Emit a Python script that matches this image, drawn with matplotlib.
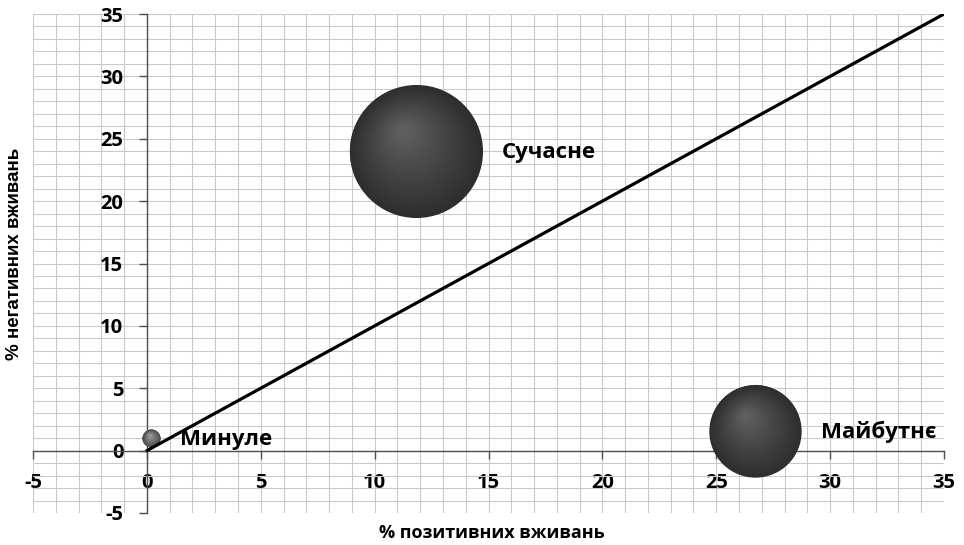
import matplotlib
matplotlib.use('Agg')
import matplotlib.pyplot as plt
import matplotlib.transforms as mtransforms
import numpy as np

# data
labels = ['Минуле', 'Сучасне', 'Майбутнє']
pos_pct = [0.2, 11.8, 26.7]     # % позитивних вживань
neg_pct = [1.0, 24.0, 1.6]      # % негативних вживань
bubble_vals = [1, 54, 26]       # bubble size (area)

line_x = [0, 35]
line_y = [0, 35]

ticks = np.arange(-5, 36, 5)

plt.rcParams['font.family'] = ['Open Sans', 'DejaVu Sans']
plt.rcParams['axes.unicode_minus'] = False


def sphere(ax, x, y, d, edge, hi, n=70):
    # fake 3D ball: stack of shrinking discs drifting toward the highlight
    hx, hy = -0.1 * d, 0.16 * d
    edge = np.array(edge)
    hi = np.array(hi)
    for i in range(n):
        t = i / (n - 1)
        di = d * (1 - 0.92 * t)
        tr = mtransforms.offset_copy(ax.transData, fig=ax.figure,
                                     x=hx * t, y=hy * t, units='points')
        c = edge + (hi - edge) * t ** 1.1
        ax.scatter([x], [y], s=di ** 2, color=[c], linewidths=0,
                   transform=tr, zorder=3 + i * 0.001)


def main():
    fig = plt.figure(figsize=(9.64, 5.45), dpi=100)
    ax = fig.add_axes([33 / 964, 32 / 545, 911 / 964, 499 / 545])

    ax.set_xlim(-5, 35)
    ax.set_ylim(-5, 35)
    ax.set_xticks(ticks)
    ax.set_yticks(ticks)
    ax.set_xticks(np.arange(-5, 36, 1), minor=True)
    ax.set_yticks(np.arange(-5, 36, 1), minor=True)
    ax.grid(which='both', color='#c9c9c9', lw=0.8)
    ax.set_axisbelow(True)

    for s in ['top', 'right']:
        ax.spines[s].set_visible(False)
    ax.spines['left'].set_position(('data', 0))
    ax.spines['bottom'].set_position(('data', 0))
    for s in ['left', 'bottom']:
        ax.spines[s].set_color('#505050')
        ax.spines[s].set_linewidth(1.0)

    ax.tick_params(which='major', length=6, width=1, color='#505050',
                   labelsize=14.5, direction='out')
    ax.tick_params(axis='y', pad=11)
    ax.tick_params(axis='x', pad=10)
    ax.tick_params(which='minor', length=0)
    for lab in ax.get_xticklabels() + ax.get_yticklabels():
        lab.set_fontweight('bold')

    # diagonal: equal share of positive and negative uses
    ax.plot(line_x, line_y, color='black', lw=2.3, zorder=6,
            solid_capstyle='round')

    dmax = 95.8  # diameter in points of the largest bubble
    for x, y, v, lab in zip(pos_pct, neg_pct, bubble_vals, labels):
        d = dmax * np.sqrt(v / max(bubble_vals))
        if v < 5:
            sphere(ax, x, y, d, (0.3, 0.3, 0.3), (0.6, 0.6, 0.6))
        else:
            sphere(ax, x, y, d, (0.18, 0.18, 0.18), (0.37, 0.37, 0.37))
        ax.annotate(lab, (x, y), xytext=(d / 2 + 14, -1),
                    textcoords='offset points', ha='left', va='center',
                    fontsize=16, fontweight='bold', zorder=10)

    fig.text(492 / 964, 1 - 533 / 545, '% позитивних вживань',
             ha='center', va='center', fontsize=13, fontweight='bold')
    fig.text(15 / 964, 1 - 254 / 545, '% негативних вживань',
             ha='center', va='center', rotation=90,
             fontsize=13.5, fontweight='bold', family='Liberation Sans')

    fig.savefig('out.png', dpi=100)


if __name__ == '__main__':
    main()
